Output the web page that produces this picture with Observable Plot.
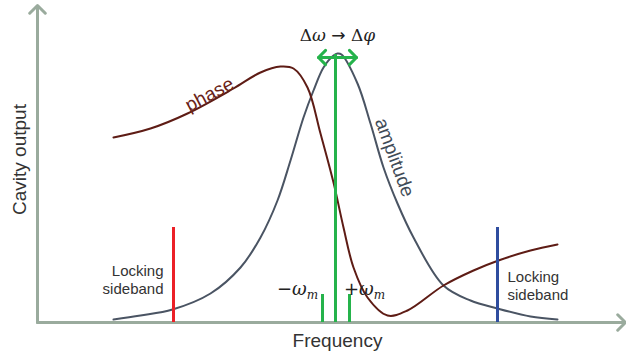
<!DOCTYPE html>
<html>
<head>
<meta charset="utf-8">
<script src="https://cdn.jsdelivr.net/npm/d3@7"></script>
<script src="https://cdn.jsdelivr.net/npm/@observablehq/plot@0.6"></script>
<style>
  html, body { margin: 0; padding: 0; background: #fff; }
  #chart svg { display: block; }
</style>
</head>
<body>
<div id="chart"></div>
<script>
// Frequency (x) and cavity output (y), in drawing units
const ampFreq = [76, 103, 135, 173, 203, 223, 240, 253, 266, 276, 286, 296, 300, 304, 320, 333, 346, 360, 376, 406, 433, 460, 493, 520];
const ampOut  = [3, 7, 13, 29, 55, 85, 122, 162, 205, 232, 255, 267, 269, 268, 239, 199, 155, 119, 85, 37, 22, 14, 6, 3];

const phaseFreq = [76, 113, 150, 196, 223, 243, 256, 270, 283, 296, 306, 316, 330, 350, 370, 406, 436, 461, 493, 520];
const phaseOut  = [185, 194, 209, 234, 250, 256, 254, 235, 189, 140, 95, 55, 25, 7, 12, 37, 52, 62, 72, 78];

const sidebandFreq = [136, 460];
const sidebandColor = ["#ec2027", "#2f4d9f"];
const sidebandTop = 95;

const carrierFreq = 298;
const carrierTop = 268;
const modFreq = [285, 312];
const modTop = 28;

const arrowY = 265;
const arrowEnds = [281, 319];

const axisTop = 317;
const axisRight = 588;

const labels = {
  math: "Δω → Δφ",
  minus: "−ωm",
  plus: "+ωm",
  locking: "Locking\nsideband",
  phase: "phase",
  amplitude: "amplitude",
  ylabel: "Cavity output",
  xlabel: "Frequency"
};

const ampData = ampFreq.map((f, i) => ({f, v: ampOut[i]}));
const phaseData = phaseFreq.map((f, i) => ({f, v: phaseOut[i]}));

const axisCol = "#9aab9d";
const green = "#25b34b";
const sans = "Liberation Sans, Arial, sans-serif";
const serif = "DejaVu Serif, Liberation Serif, serif";

const plot = Plot.plot({
  width: 626,
  height: 353,
  margin: 0,
  x: {domain: [-37, 589], axis: null},
  y: {domain: [-31, 322], axis: null},
  marks: [
    // axes
    Plot.arrow([{x1: 0, y1: 0, x2: 0, y2: axisTop}, {x1: 0, y1: 0, x2: axisRight, y2: 0}], {
      x1: "x1", y1: "y1", x2: "x2", y2: "y2", stroke: axisCol, strokeWidth: 3, headLength: 5.5, headAngle: 90
    }),
    Plot.line(ampData, {x: "f", y: "v", stroke: "#4a5463", strokeWidth: 2, curve: "catmull-rom"}),
    Plot.line(phaseData, {x: "f", y: "v", stroke: "#5e1c15", strokeWidth: 2, curve: "catmull-rom"}),
    Plot.ruleX(sidebandFreq.map((f, i) => ({f, c: sidebandColor[i]})), {
      x: "f", y1: 0, y2: sidebandTop, stroke: d => d.c, strokeWidth: 3
    }),
    Plot.ruleX([carrierFreq], {x: d => d, y1: 0, y2: carrierTop, stroke: green, strokeWidth: 3}),
    Plot.ruleX(modFreq, {x: d => d, y1: 0, y2: modTop, stroke: green, strokeWidth: 3}),
    Plot.arrow([{x1: arrowEnds[1], x2: arrowEnds[0]}, {x1: arrowEnds[0], x2: arrowEnds[1]}], {
      x1: "x1", x2: "x2", y1: arrowY, y2: arrowY, stroke: green, strokeWidth: 3, headLength: 5, headAngle: 90
    }),
    // labels
    Plot.text([labels.math], {x: 300, y: 287, text: d => d, fontFamily: serif, fontSize: 17, fill: "#222"}),
    Plot.text([labels.minus], {x: 260, y: 33, text: d => d, fontFamily: serif, fontSize: 18, fill: "#222"}),
    Plot.text([labels.plus], {x: 327, y: 33, text: d => d, fontFamily: serif, fontSize: 18, fill: "#222"}),
    Plot.text([labels.locking], {x: 126, y: 43, text: d => d, textAnchor: "end", fontFamily: sans, fontSize: 15, fill: "#333", lineHeight: 1.2}),
    Plot.text([labels.locking], {x: 470, y: 37, text: d => d, textAnchor: "start", fontFamily: sans, fontSize: 15, fill: "#333", lineHeight: 1.2}),
    Plot.text([labels.phase], {x: 172, y: 228, text: d => d, rotate: -28, fontFamily: sans, fontSize: 19, fill: "#6a2318"}),
    Plot.text([labels.amplitude], {x: 357, y: 165, text: d => d, rotate: 70, fontFamily: sans, fontSize: 19, fill: "#3f4b57"}),
    Plot.text([labels.ylabel], {x: -18, y: 163, text: d => d, rotate: -90, fontFamily: sans, fontSize: 19, fill: "#333"}),
    Plot.text([labels.xlabel], {x: 300, y: -18, text: d => d, fontFamily: sans, fontSize: 19, fill: "#333"})
  ]
});

// typeset the math labels with italic Greek letters and subscripts
const NS = "http://www.w3.org/2000/svg";
function ts(parent, str, opts = {}) {
  const t = document.createElementNS(NS, "tspan");
  t.textContent = str;
  if (opts.italic) t.setAttribute("font-style", "italic");
  if (opts.size) t.setAttribute("font-size", opts.size);
  if (opts.dy != null) t.setAttribute("dy", opts.dy);
  if (opts.family) t.setAttribute("font-family", opts.family);
  parent.appendChild(t);
}
plot.querySelectorAll("text").forEach(el => {
  const s = el.textContent;
  if (s === labels.math) {
    el.textContent = "";
    ts(el, "Δ"); ts(el, "ω", {italic: true}); ts(el, " → ", {family: "DejaVu Sans"}); ts(el, "Δ"); ts(el, "φ", {italic: true});
  } else if (s === labels.minus || s === labels.plus) {
    el.textContent = "";
    ts(el, s[0], {family: "DejaVu Sans"}); ts(el, "ω", {italic: true}); ts(el, "m", {italic: true, size: 12, dy: 4});
  }
});

document.getElementById("chart").appendChild(plot);
</script>
</body>
</html>
